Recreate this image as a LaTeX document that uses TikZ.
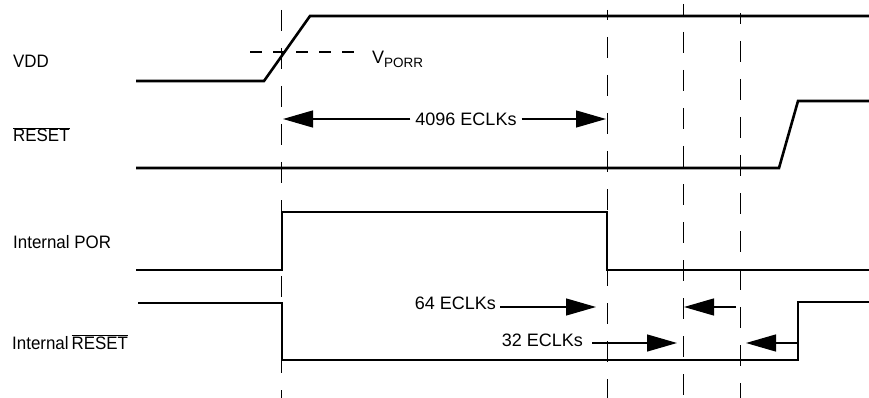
\documentclass[tikz,border=0pt]{standalone}
\usepackage{fontspec}
\setmainfont{Liberation Sans}
\newfontfamily\sigfont[FakeStretch=0.94]{Liberation Sans}
\usetikzlibrary{arrows.meta}

\begin{document}
\begin{tikzpicture}[x=1pt,y=-1pt,every node/.style={font=\sigfont\fontsize{18}{20}\selectfont,inner sep=0pt},
  wave/.style={line width=2.6pt,line join=miter},
  tmark/.style={line width=1.3pt,dash pattern=on 21pt off 17pt},
  arr/.style={line width=1.3pt,-{Triangle[length=30pt,width=17pt]}}]
\useasboundingbox (0,0) rectangle (869,398);
% time marks
\coordinate (t0) at (281.5,10);
\coordinate (t1) at (607.5,10);
\coordinate (t2) at (683.3,4);
\coordinate (t3) at (740.7,13);
\draw[tmark] (t0) -- (281.5,398);
\draw[tmark,dash phase=11pt] (t1) -- (607.5,398);
\draw[tmark,dash phase=10pt] (t2) -- (683.3,398);
\draw[tmark,dash phase=10pt] (t3) -- (740.7,398);
% signal names
\node[anchor=base west] (vdd) at (13,67.5) {VDD};
\node[anchor=base west] (rst) at (13,142) {$\overline{\mbox{RESET}}$};
\node[anchor=base west] (ipor) at (13,248) {Internal POR};
\node[anchor=base west] (irst) at (12,349) {Internal\,$\overline{\mbox{RESET}}$};
% waveforms
\draw[wave] (136,81) -- (264,81) -- (310,16) -- (869,16);
\draw[line width=1.3pt,dash pattern=on 12pt off 11pt] (250,52) -- (361,52);
\node[anchor=base west,font=\fontsize{18}{20}\selectfont] (vporr) at (372,63.5)
  {V\raisebox{-4.5pt}{\fontsize{13.5}{14}\selectfont PORR}};
\draw[wave] (136,168) -- (779,168) -- (798,101) -- (869,101);
\draw[wave] (136,270) -- (282,270) -- (282,212) -- (607,212) -- (607,270) -- (869,270);
\draw[wave] (138,303) -- (282,303) -- (282,360) -- (798,360) -- (798,302) -- (869,302);
% intervals
\node[font=\fontsize{18}{20}\selectfont] (n4096) at (466,119) {4096 ECLKs};
\coordinate (a0) at (283,119);
\coordinate (a1) at (606,119);
\draw[arr] ([xshift=-5pt]n4096.west) -- (a0);
\draw[arr] ([xshift=5pt]n4096.east) -- (a1);
\node[anchor=base east,font=\fontsize{18}{20}\selectfont] (n64) at (496,309) {64 ECLKs};
\coordinate (a2) at (596,307);
\coordinate (b2) at (736,307);
\coordinate (a3) at (684,307);
\draw[arr] (500,307) -- (a2);
\draw[arr] (b2) -- (a3);
\node[anchor=base east,font=\fontsize{18}{20}\selectfont] (n32) at (583,346) {32 ECLKs};
\coordinate (a4) at (677,343);
\coordinate (b5) at (798,343);
\coordinate (a5) at (746,343);
\draw[arr] (592,343) -- (a4);
\draw[arr] (b5) -- (a5);
\end{tikzpicture}
\end{document}
